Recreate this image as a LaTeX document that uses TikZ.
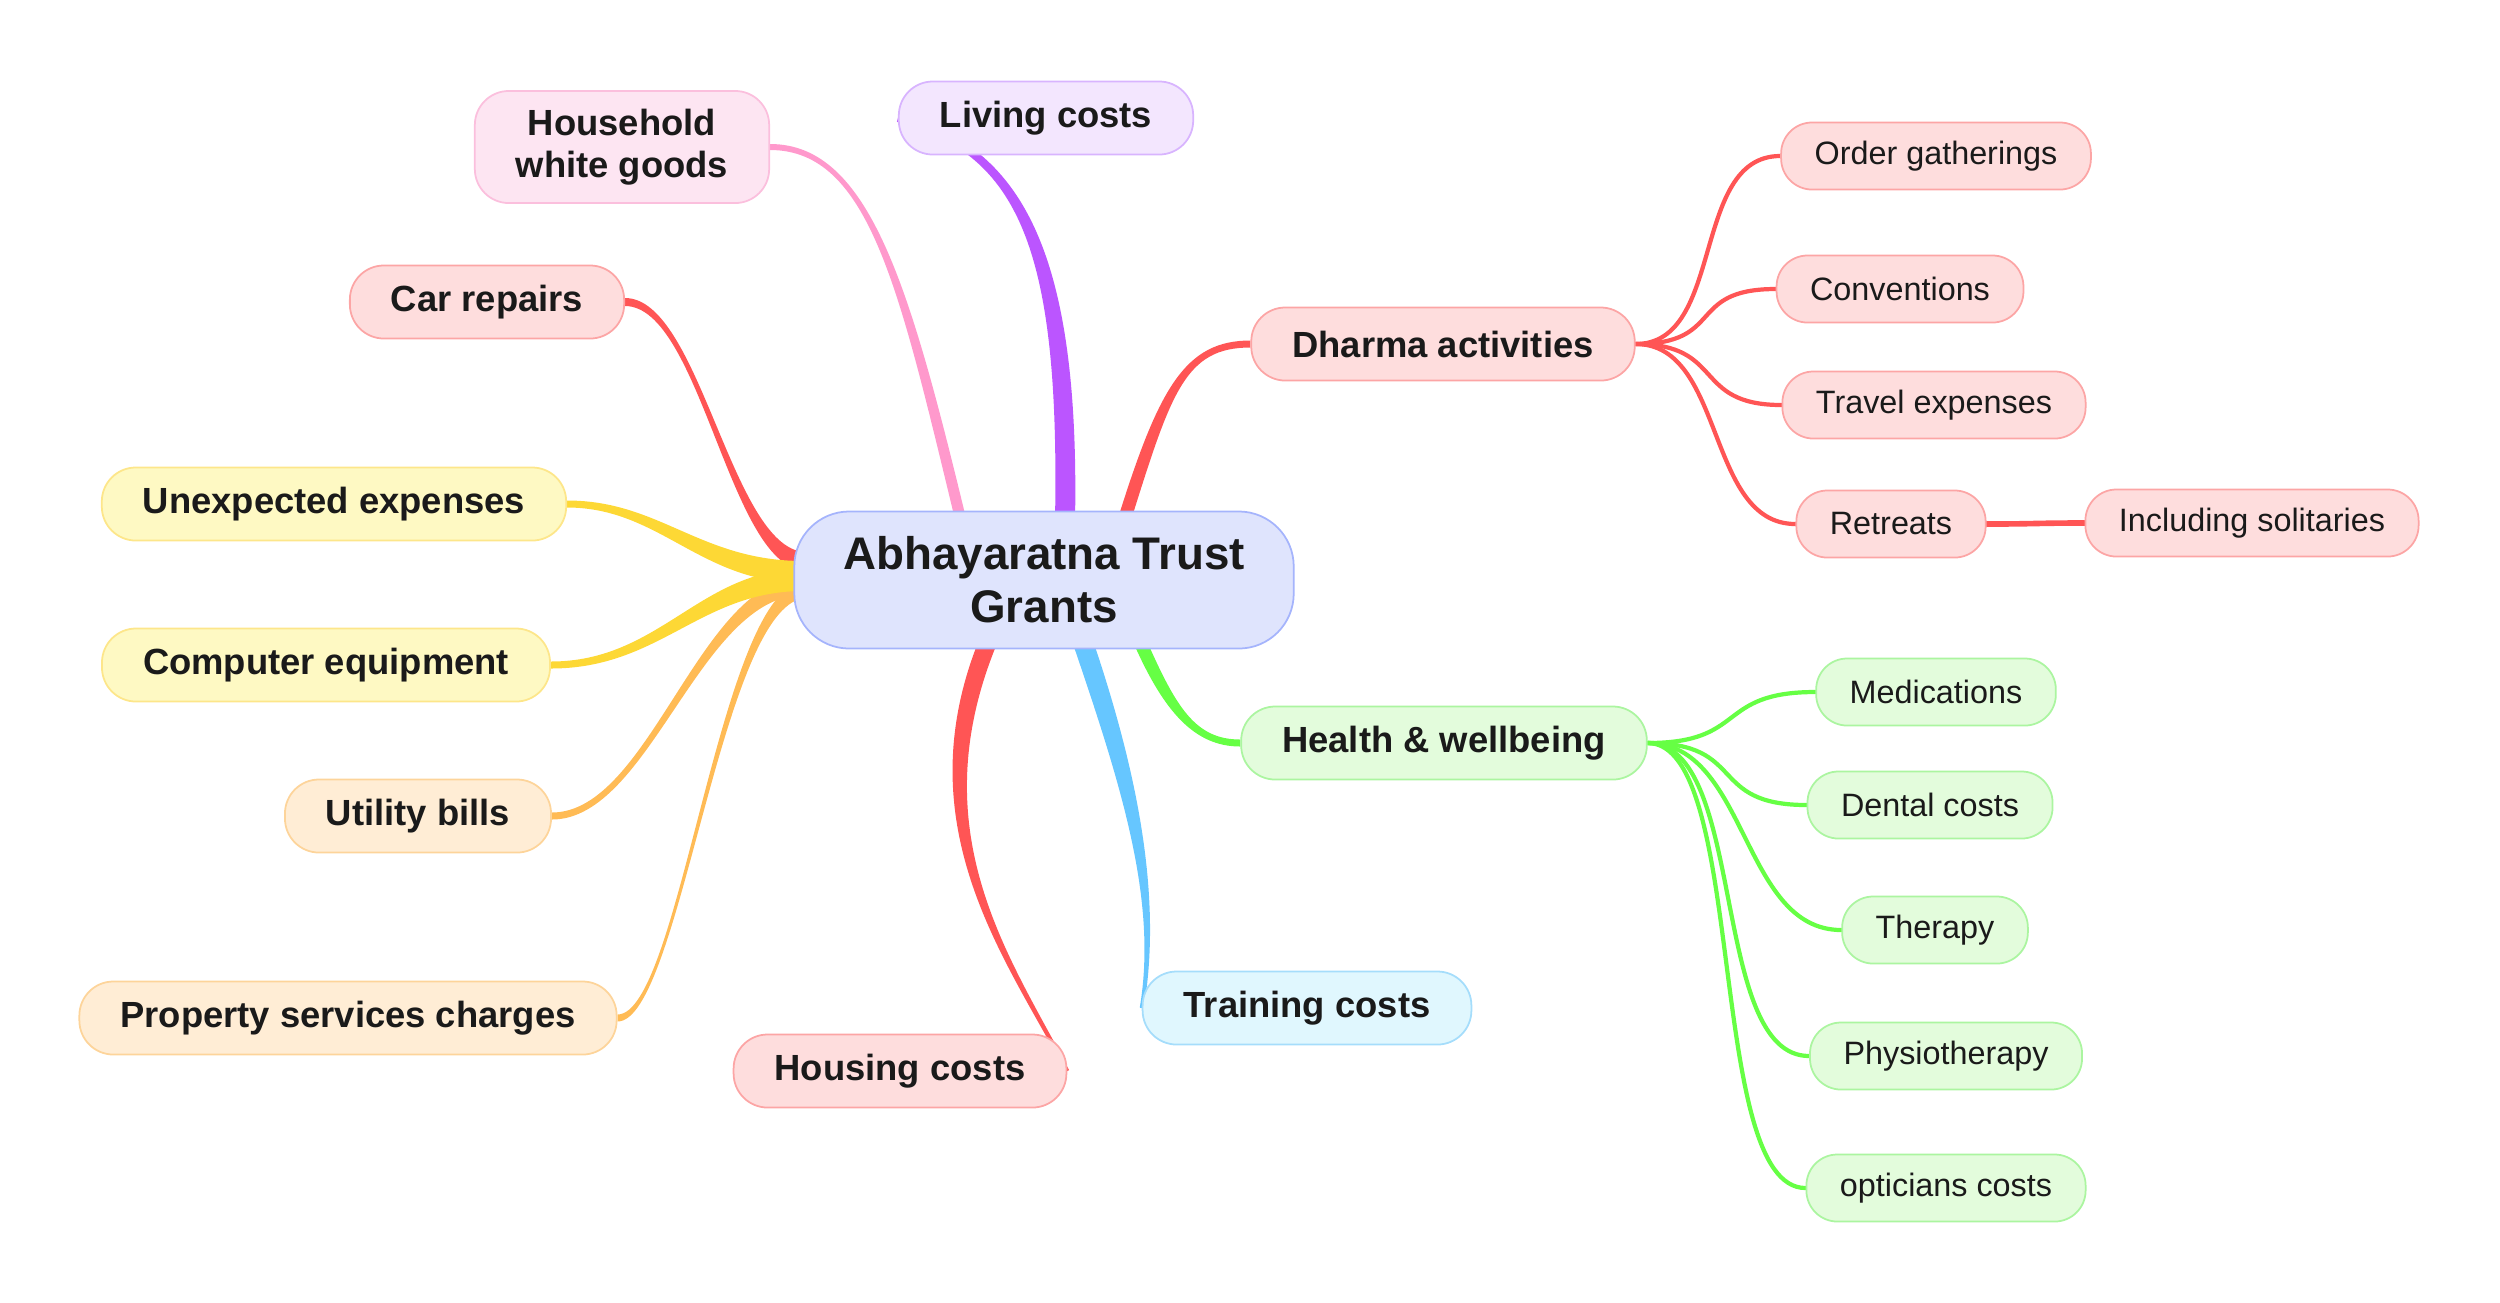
\documentclass[tikz,border=0pt]{standalone}
\usepackage{fontspec}
\setmainfont{Liberation Sans}
\usepackage{xcolor}
\usepackage{tikz}
\usetikzlibrary{calc,backgrounds}
\definecolor{ink}{HTML}{1A1A1A}
\definecolor{hubfill}{HTML}{DFE4FD}
\definecolor{hubline}{HTML}{A5B4FC}
\definecolor{redfill}{HTML}{FEDDDD}
\definecolor{redline}{HTML}{FCA5A5}
\definecolor{redlink}{HTML}{FF5555}
\definecolor{pinkfill}{HTML}{FDE5F2}
\definecolor{pinkline}{HTML}{FBBFDD}
\definecolor{pinklink}{HTML}{FF99CC}
\definecolor{purplefill}{HTML}{F3E6FE}
\definecolor{purpleline}{HTML}{D8B4FE}
\definecolor{purplelink}{HTML}{BB55FF}
\definecolor{yellowfill}{HTML}{FEF9C3}
\definecolor{yellowline}{HTML}{FDE68A}
\definecolor{yellowlink}{HTML}{FDD835}
\definecolor{orangefill}{HTML}{FFEDD5}
\definecolor{orangeline}{HTML}{FDD49A}
\definecolor{orangelink}{HTML}{FFBB55}
\definecolor{bluefill}{HTML}{E0F7FE}
\definecolor{blueline}{HTML}{A5DDFB}
\definecolor{bluelink}{HTML}{66C6FF}
\definecolor{greenfill}{HTML}{E3FCDC}
\definecolor{greenline}{HTML}{ABF5A0}
\definecolor{greenlink}{HTML}{66FF44}

% tapered branch: colour, start, control 1, control 2, end, half width at start, half width at end
\newcommand{\taperlink}[7]{%
  \path #2 coordinate (tks) #3 coordinate (tka) #4 coordinate (tkb) #5 coordinate (tke);
  \path ($(tks)!#6!90:(tka)$) coordinate (tks1)
        ($(tks)!#6!-90:(tka)$) coordinate (tks2)
        ($(tke)!#7!-90:(tkb)$) coordinate (tke1)
        ($(tke)!#7!90:(tkb)$) coordinate (tke2);
  \fill[#1] (tks1) .. controls ($(tka)+(tks1)-(tks)$) and ($(tkb)+(tke1)-(tke)$) .. (tke1)
    -- (tke2) .. controls ($(tkb)+(tke2)-(tke)$) and ($(tka)+(tks2)-(tks)$) .. (tks2) -- cycle;
}

\begin{document}
\begin{tikzpicture}[x=0.01cm, y=-0.01cm,
    hub/.style={rectangle, rounded corners=0.55cm, draw=hubline, fill=hubfill, line width=0.5pt, minimum height=1.37cm, inner xsep=0.49cm, align=center, text=ink, font=\fontsize{13}{15}\selectfont\bfseries},
    topic/.style={rectangle, rounded corners=0.34cm, line width=0.5pt, minimum height=0.73cm, inner xsep=0.41cm, text=ink, font=\fontsize{10.35}{12}\selectfont\bfseries},
    leaf/.style={rectangle, rounded corners=0.31cm, line width=0.5pt, minimum height=0.67cm, inner xsep=0.335cm, text=ink, font=\fontsize{9.2}{11}\selectfont},
    redbox/.style={draw=redline, fill=redfill},
    pinkbox/.style={draw=pinkline, fill=pinkfill},
    purplebox/.style={draw=purpleline, fill=purplefill},
    yellowbox/.style={draw=yellowline, fill=yellowfill},
    orangebox/.style={draw=orangeline, fill=orangefill},
    bluebox/.style={draw=blueline, fill=bluefill},
    greenbox/.style={draw=greenline, fill=greenfill},
    sublink/.style={line width=1.2pt, line cap=round}]
    \useasboundingbox (0,0) rectangle (2500,1302);

    \node[hub] (hub) at (1044,580) {Abhayaratna Trust\\Grants};

    \node[topic, pinkbox, align=center, minimum height=1.12cm] (house) at (622,147) {Household\\white goods};
    \node[topic, purplebox] (living) at (1046,118) {Living costs};
    \node[topic, redbox] (car) at (487,302) {Car repairs};
    \node[topic, yellowbox] (unexp) at (334,504) {Unexpected expenses};
    \node[topic, yellowbox] (comp) at (326,665) {Computer equipment};
    \node[topic, orangebox] (util) at (418,816) {Utility bills};
    \node[topic, orangebox] (prop) at (348,1018) {Property services charges};
    \node[topic, redbox] (housing) at (900,1071) {Housing costs};
    \node[topic, bluebox] (training) at (1307,1008) {Training costs};
    \node[topic, redbox] (dharma) at (1443,344) {Dharma activities};
    \node[topic, greenbox] (health) at (1444,743) {Health \& wellbeing};

    \node[leaf, redbox] (order) at (1936,156) {Order gatherings};
    \node[leaf, redbox] (conv) at (1900,289) {Conventions};
    \node[leaf, redbox] (travel) at (1934,405) {Travel expenses};
    \node[leaf, redbox] (retreat) at (1891,524) {Retreats};
    \node[leaf, redbox] (solit) at (2252,523) {Including solitaries};

    \node[leaf, greenbox] (medic) at (1936,692) {Medications};
    \node[leaf, greenbox] (dental) at (1930,805) {Dental costs};
    \node[leaf, greenbox] (therapy) at (1935,930) {Therapy};
    \node[leaf, greenbox] (physio) at (1946,1056) {Physiotherapy};
    \node[leaf, greenbox] (optic) at (1946,1188) {opticians costs};

    \begin{scope}[on background layer]
    % main branches
    \taperlink{pinklink}{([xshift=-0.83cm,yshift=-0.1cm]hub.north)}{(905,290)}{(870,147)}{(house.east)}{0.055cm}{0.03cm}
    \taperlink{purplelink}{([xshift=0.21cm,yshift=-0.1cm]hub.north)}{(1070,250)}{(1020,150)}{(living.west)}{0.10cm}{0.04cm}
    \taperlink{redlink}{([xshift=0.80cm,yshift=-0.1cm]hub.north)}{(1165,390)}{(1185,344)}{(dharma.west)}{0.065cm}{0.035cm}
    \taperlink{greenlink}{([xshift=0.95cm,yshift=0.1cm]hub.south)}{(1170,710)}{(1195,743)}{(health.west)}{0.065cm}{0.035cm}
    \taperlink{bluelink}{([xshift=0.38cm,yshift=0.1cm]hub.south)}{(1130,780)}{(1160,900)}{(training.west)}{0.10cm}{0.02cm}
    \taperlink{redlink}{([xshift=-0.55cm,yshift=0.1cm]hub.south)}{(910,830)}{(1010,960)}{(housing.east)}{0.09cm}{0.02cm}
    \taperlink{orangelink}{([xshift=0.1cm,yshift=-0.1cm]hub.west)}{(720,600)}{(680,1018)}{(prop.east)}{0.08cm}{0.035cm}
    \taperlink{orangelink}{([xshift=0.1cm,yshift=-0.06cm]hub.west)}{(700,586)}{(650,816)}{(util.east)}{0.09cm}{0.035cm}
    \taperlink{redlink}{([xshift=0.1cm,yshift=0.19cm]hub.west)}{(730,555)}{(700,302)}{(car.east)}{0.09cm}{0.04cm}
    \taperlink{yellowlink}{([xshift=0.1cm,yshift=0.08cm]hub.west)}{(700,572)}{(660,504)}{(unexp.east)}{0.11cm}{0.035cm}
    \taperlink{yellowlink}{([xshift=0.1cm]hub.west)}{(700,580)}{(660,665)}{(comp.east)}{0.11cm}{0.035cm}

    % sub branches
    \draw[sublink, redlink] (dharma.east) .. controls +(90,0) and +(-90,0) .. (order.west);
    \draw[sublink, redlink] (dharma.east) .. controls +(90,0) and +(-90,0) .. (conv.west);
    \draw[sublink, redlink] (dharma.east) .. controls +(90,0) and +(-90,0) .. (travel.west);
    \draw[sublink, redlink] (dharma.east) .. controls +(90,0) and +(-90,0) .. (retreat.west);
    \draw[sublink, redlink, line width=1.6pt] (retreat.east) .. controls +(50,0) and +(-50,0) .. (solit.west);
    \draw[sublink, greenlink] (health.east) .. controls +(100,0) and +(-100,0) .. (medic.west);
    \draw[sublink, greenlink] (health.east) .. controls +(100,0) and +(-100,0) .. (dental.west);
    \draw[sublink, greenlink] (health.east) .. controls +(100,0) and +(-100,0) .. (therapy.west);
    \draw[sublink, greenlink] (health.east) .. controls +(100,0) and +(-100,0) .. (physio.west);
    \draw[sublink, greenlink] (health.east) .. controls +(100,0) and +(-100,0) .. (optic.west);
    \end{scope}
\end{tikzpicture}
\end{document}
